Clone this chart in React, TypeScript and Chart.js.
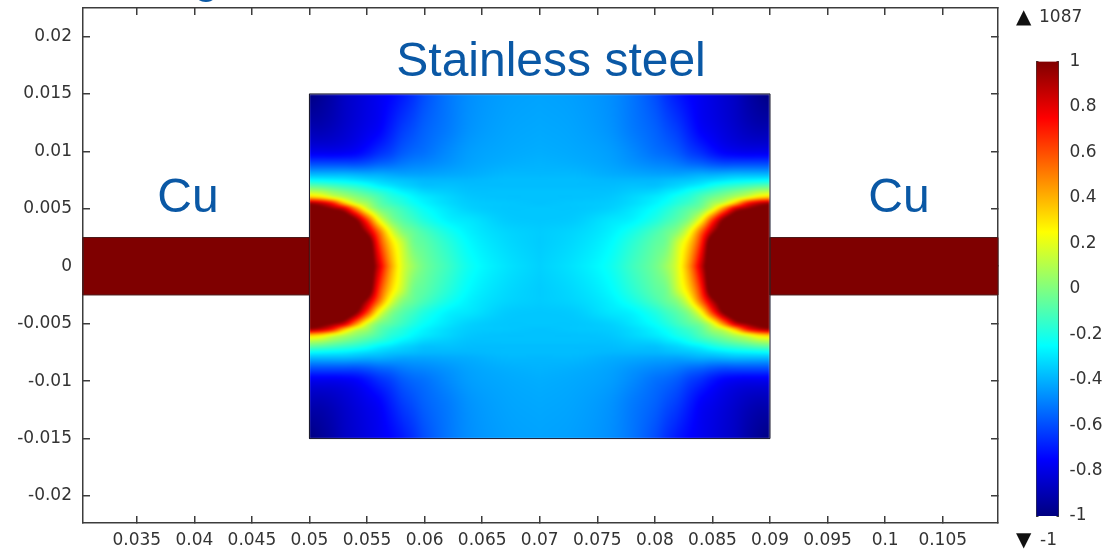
import React, { useEffect, useRef } from "react";
import { Chart, registerables } from "chart.js";

Chart.register(...registerables);

const xTickValues = [0.035, 0.04, 0.045, 0.05, 0.055, 0.06, 0.065, 0.07, 0.075, 0.08, 0.085, 0.09, 0.095, 0.1, 0.105];
const yTickValues = [0.02, 0.015, 0.01, 0.005, 0, -0.005, -0.01, -0.015, -0.02];
const colorbarTickValues = [1, 0.8, 0.6, 0.4, 0.2, 0, -0.2, -0.4, -0.6, -0.8, -1];
const xRange = [0.03033, 0.1098];
const yRange = [-0.02235, 0.02248];

// Steel block and the two copper bars, in axis units
const steelBlock = { x: [0.05, 0.09], y: [-0.015, 0.015] };
const copperLeft = { x: [0.03033, 0.05], y: [-0.0025, 0.0025] };
const copperRight = { x: [0.09, 0.1098], y: [-0.0025, 0.0025] };

// Field in the steel block, one quadrant (the picture mirrors about x=0.07 and y=0).
// Columns: distance from the wall; rows: distance from the centre line (both mm).
const fieldCols = [0, 1, 2, 3, 4, 5, 6, 7, 8, 9, 10, 12, 14, 17, 20];
const fieldRows = [0, 2, 3, 4, 5, 5.5, 6, 6.5, 7, 7.5, 8, 9, 10, 12, 15];
const fieldValues = [
  [3.0, 3.0, 2.8, 2.4, 1.7, 1.25, 0.85, 0.47, 0.2, 0.06, -0.03, -0.13, -0.23, -0.3, -0.34],
  [3.0, 2.8, 2.6, 2.1, 1.6, 1.2, 0.68, 0.35, 0.15, -0.02, -0.07, -0.17, -0.26, -0.32, -0.35],
  [2.5, 2.3, 2.0, 1.6, 1.2, 0.92, 0.55, 0.22, 0.03, -0.05, -0.11, -0.21, -0.28, -0.33, -0.35],
  [2.0, 1.8, 1.5, 1.25, 1.02, 0.65, 0.25, 0.03, -0.07, -0.13, -0.19, -0.27, -0.3, -0.35, -0.36],
  [1.15, 1.08, 0.97, 0.84, 0.5, 0.18, 0.0, -0.07, -0.13, -0.19, -0.24, -0.3, -0.34, -0.36, -0.36],
  [0.93, 0.85, 0.69, 0.38, 0.16, 0.06, -0.06, -0.13, -0.18, -0.23, -0.27, -0.32, -0.35, -0.36, -0.37],
  [0.38, 0.32, 0.2, 0.11, 0.03, -0.03, -0.1, -0.17, -0.21, -0.26, -0.29, -0.33, -0.36, -0.37, -0.37],
  [0.12, 0.09, 0.03, -0.02, -0.07, -0.12, -0.17, -0.22, -0.27, -0.3, -0.33, -0.35, -0.37, -0.37, -0.37],
  [-0.07, -0.09, -0.12, -0.15, -0.18, -0.22, -0.27, -0.3, -0.33, -0.35, -0.37, -0.37, -0.38, -0.38, -0.38],
  [-0.25, -0.26, -0.27, -0.28, -0.3, -0.32, -0.34, -0.36, -0.37, -0.38, -0.39, -0.39, -0.39, -0.38, -0.38],
  [-0.39, -0.39, -0.39, -0.39, -0.4, -0.41, -0.41, -0.42, -0.43, -0.43, -0.43, -0.42, -0.41, -0.39, -0.39],
  [-0.62, -0.62, -0.62, -0.62, -0.62, -0.6, -0.57, -0.55, -0.52, -0.5, -0.49, -0.46, -0.43, -0.41, -0.4],
  [-0.79, -0.79, -0.79, -0.78, -0.76, -0.72, -0.67, -0.63, -0.58, -0.55, -0.53, -0.48, -0.44, -0.42, -0.41],
  [-0.9, -0.9, -0.88, -0.85, -0.82, -0.79, -0.76, -0.7, -0.64, -0.6, -0.56, -0.51, -0.46, -0.43, -0.42],
  [-1.0, -0.96, -0.92, -0.87, -0.84, -0.81, -0.78, -0.75, -0.71, -0.66, -0.6, -0.52, -0.47, -0.44, -0.43],
];

const regionLabels = [
  { text: "Stainless steel", x: 0.07098, y: 0.01652 },
  { text: "Cu", x: 0.03945, y: 0.0047 },
  { text: "Cu", x: 0.1012, y: 0.0047 },
];
const maxValueText = "1087";
const minValueText = "-1";
const cutOffTitle = "g";

const TEXT_COLOR = "#333333";
const AXIS_COLOR = "#3c3c3c";
const LABEL_BLUE = "#0a58a5";
const TICK_FONT = { family: "DejaVu Sans", size: 17 };

function jet(v: number): [number, number, number] {
  const t = Math.max(-1, Math.min(1, v));
  const ramp = (c: number) => Math.round(255 * Math.max(0, Math.min(1, 1.5 - Math.abs(c))));
  // centres of the red, green and blue humps on a -1..1 scale
  return [ramp((t - 0.5) * 2), ramp(t * 2), ramp((t + 0.5) * 2)];
}

function lookup(list: number[], v: number) {
  let i = 0;
  while (i < list.length - 2 && v > list[i + 1]) i++;
  const f = Math.max(0, Math.min(1, (v - list[i]) / (list[i + 1] - list[i])));
  return [i, f];
}

// Piecewise cubic reading of a table line, so the drawn contours stay round
function cubic(pos: number[], vals: number[], i: number, f: number) {
  const n = pos.length - 1;
  const slope = (k: number) => {
    const a = Math.max(0, k - 1);
    const b = Math.min(n, k + 1);
    return (vals[b] - vals[a]) / (pos[b] - pos[a]);
  };
  const h = pos[i + 1] - pos[i];
  const f2 = f * f;
  const f3 = f2 * f;
  return (
    (2 * f3 - 3 * f2 + 1) * vals[i] +
    (f3 - 2 * f2 + f) * h * slope(i) +
    (-2 * f3 + 3 * f2) * vals[i + 1] +
    (f3 - f2) * h * slope(i + 1)
  );
}

function fieldAt(xAxis: number, yAxis: number) {
  const col = 20 - Math.abs(xAxis - 0.07) * 1000;
  const row = Math.abs(yAxis) * 1000;
  const [i, fx] = lookup(fieldCols, col);
  const [j, fy] = lookup(fieldRows, row);
  const across = fieldValues.map((line, k) =>
    k >= j - 1 && k <= j + 2 ? cubic(fieldCols, line, i, fx) : 0
  );
  return cubic(fieldRows, across, j, fy);
}

const fieldPlugin = {
  id: "field",
  beforeDatasetsDraw(chart: any) {
    const { ctx, scales } = chart;
    const sx = scales.x;
    const sy = scales.y;
    ctx.save();
    ctx.fillStyle = "#7f0000";
    for (const r of [copperLeft, copperRight]) {
      const l = sx.getPixelForValue(r.x[0]);
      const t = sy.getPixelForValue(r.y[1]);
      ctx.fillRect(l, t, sx.getPixelForValue(r.x[1]) - l, sy.getPixelForValue(r.y[0]) - t);
    }
    const left = Math.round(sx.getPixelForValue(steelBlock.x[0]));
    const right = Math.round(sx.getPixelForValue(steelBlock.x[1]));
    const top = Math.round(sy.getPixelForValue(steelBlock.y[1]));
    const bottom = Math.round(sy.getPixelForValue(steelBlock.y[0]));
    const w = right - left;
    const h = bottom - top;
    const off = document.createElement("canvas");
    off.width = w;
    off.height = h;
    const octx = off.getContext("2d")!;
    const img = octx.createImageData(w, h);
    for (let py = 0; py < h; py++) {
      const yv = sy.getValueForPixel(top + py + 0.5);
      for (let px = 0; px < w; px++) {
        const xv = sx.getValueForPixel(left + px + 0.5);
        const [r, g, b] = jet(fieldAt(xv, yv));
        const k = (py * w + px) * 4;
        img.data[k] = r;
        img.data[k + 1] = g;
        img.data[k + 2] = b;
        img.data[k + 3] = 255;
      }
    }
    octx.putImageData(img, 0, 0);
    ctx.beginPath();
    ctx.rect(left, top, w, h);
    ctx.clip();
    ctx.filter = "blur(1px)";
    ctx.drawImage(off, left, top);
    ctx.filter = "none";
    ctx.restore();
  },
};

const textPlugin = {
  id: "texts",
  afterDraw(chart: any) {
    const { ctx, scales } = chart;
    ctx.save();
    ctx.fillStyle = LABEL_BLUE;
    ctx.font = "48px 'Liberation Sans'";
    ctx.textAlign = "center";
    ctx.textBaseline = "alphabetic";
    for (const l of regionLabels) {
      ctx.fillText(l.text, scales.x.getPixelForValue(l.x), scales.y.getPixelForValue(l.y));
    }
    ctx.textAlign = "left";
    ctx.fillText(cutOffTitle, 193, -8);
    ctx.fillStyle = TEXT_COLOR;
    ctx.font = "17px 'DejaVu Sans'";
    ctx.textBaseline = "middle";
    ctx.fillText(maxValueText, 1039, 18);
    ctx.fillText(minValueText, 1040, 541);
    ctx.fillStyle = "#111111";
    ctx.font = "20px 'DejaVu Sans'";
    ctx.fillText("\u25B2", 1016, 18);
    ctx.fillText("\u25BC", 1016, 541);
    ctx.restore();
  },
};

const outline = (r: { x: number[]; y: number[] }) => [
  { x: r.x[0], y: r.y[0] },
  { x: r.x[1], y: r.y[0] },
  { x: r.x[1], y: r.y[1] },
  { x: r.x[0], y: r.y[1] },
  { x: r.x[0], y: r.y[0] },
];

const outlineDataset = (r: { x: number[]; y: number[] }, color: string) => ({
  data: outline(r),
  showLine: true,
  pointRadius: 0,
  borderColor: color,
  borderWidth: 1,
  fill: false,
  clip: false,
});

const valueLabel = (v: number | string) => String(v);

const fixBox = (width: number | null, height: number | null) => (s: any) => {
  if (width !== null) s.width = width;
  if (height !== null) s.height = height;
  s.paddingLeft = 0;
  s.paddingRight = 0;
  s.paddingTop = 0;
  s.paddingBottom = 0;
};

export default function App() {
  const mainRef = useRef<HTMLCanvasElement>(null);
  const barRef = useRef<HTMLCanvasElement>(null);

  useEffect(() => {
    document.body.style.margin = "0";
    document.body.style.background = "#ffffff";

    const axisCommon = {
      border: { color: AXIS_COLOR, width: 1.5 },
      grid: { drawOnChartArea: false, drawTicks: true, tickLength: -7, color: AXIS_COLOR, lineWidth: 1.5 },
    };
    const xScale = {
      type: "linear",
      min: xRange[0],
      max: xRange[1],
      afterBuildTicks: (s: any) => {
        s.ticks = xTickValues.map((value) => ({ value }));
      },
    };
    const yScale = {
      type: "linear",
      min: yRange[0],
      max: yRange[1],
      afterBuildTicks: (s: any) => {
        s.ticks = yTickValues.map((value) => ({ value }));
      },
    };

    const main = new Chart(mainRef.current!, {
      type: "scatter",
      data: {
        datasets: [
          outlineDataset(copperLeft, "#4a1a1a"),
          outlineDataset(copperRight, "#4a1a1a"),
          outlineDataset(steelBlock, "#1c1c30"),
        ],
      },
      options: {
        responsive: false,
        animation: false,
        layout: { padding: { top: 8, right: 115, left: 0, bottom: 0 } },
        plugins: { legend: { display: false }, tooltip: { enabled: false }, title: { display: false } },
        scales: {
          x: {
            ...xScale,
            ...axisCommon,
            position: "bottom",
            afterFit: fixBox(null, 27),
            ticks: {
              autoSkip: false,
              maxRotation: 0,
              minRotation: 0,
              padding: 14,
              color: TEXT_COLOR,
              font: TICK_FONT,
              callback: valueLabel,
            },
          },
          y: {
            ...yScale,
            ...axisCommon,
            position: "left",
            afterFit: fixBox(83, null),
            ticks: {
              autoSkip: false,
              padding: 18,
              color: TEXT_COLOR,
              font: TICK_FONT,
              callback: valueLabel,
            },
          },
          xTop: {
            ...xScale,
            ...axisCommon,
            position: "top",
            afterFit: fixBox(null, 0),
            ticks: { display: false },
          },
          yRight: {
            ...yScale,
            ...axisCommon,
            position: "right",
            afterFit: fixBox(0, null),
            ticks: { display: false },
          },
        },
      },
      plugins: [fieldPlugin, textPlugin],
    } as any);

    const barAxis = {
      type: "linear",
      min: -1,
      max: 1,
      border: { color: AXIS_COLOR, width: 1 },
      grid: { drawOnChartArea: false, drawTicks: true, tickLength: -2, color: AXIS_COLOR, lineWidth: 1 },
      afterBuildTicks: (s: any) => {
        s.ticks = colorbarTickValues.map((value) => ({ value }));
      },
    };
    const jetGradient = (ctx: any) => {
      const { chart } = ctx;
      const y = chart.scales?.yBar;
      const y0 = y ? y.getPixelForValue(-1) : NaN;
      const y1 = y ? y.getPixelForValue(1) : NaN;
      if (!chart.chartArea || !Number.isFinite(y0) || !Number.isFinite(y1)) return "#000";
      const g = chart.ctx.createLinearGradient(0, y0, 0, y1);
      for (let i = 0; i <= 16; i++) {
        const [r, gr, b] = jet(-1 + i / 8);
        g.addColorStop(i / 16, `rgb(${r},${gr},${b})`);
      }
      return g;
    };
    const bar = new Chart(barRef.current!, {
      type: "bar",
      data: {
        labels: ["field"],
        datasets: [
          {
            data: [[-1, 1]],
            backgroundColor: jetGradient,
            borderWidth: 0,
            barPercentage: 1,
            categoryPercentage: 1,
            yAxisID: "yBar",
          },
        ],
      },
      options: {
        responsive: false,
        animation: false,
        layout: { padding: { top: 61.5, left: 16.5, right: 0, bottom: 34 } },
        plugins: { legend: { display: false }, tooltip: { enabled: false } },
        scales: {
          x: { display: false },
          yBar: {
            ...barAxis,
            position: "right",
            afterFit: fixBox(54.5, null),
            ticks: {
              autoSkip: false,
              padding: 13,
              color: TEXT_COLOR,
              font: TICK_FONT,
              callback: valueLabel,
            },
          },
          yBarLeft: {
            ...barAxis,
            position: "left",
            afterFit: fixBox(0, null),
            ticks: { display: false },
          },
        },
      },
    } as any);

    return () => {
      main.destroy();
      bar.destroy();
    };
  }, []);

  return (
    <div style={{ position: "relative", width: 1113, height: 550 }}>
      <canvas ref={mainRef} width={1113} height={550} style={{ position: "absolute", left: 0, top: 0 }} />
      <canvas ref={barRef} width={93} height={550} style={{ position: "absolute", left: 1020, top: 0 }} />
    </div>
  );
}
